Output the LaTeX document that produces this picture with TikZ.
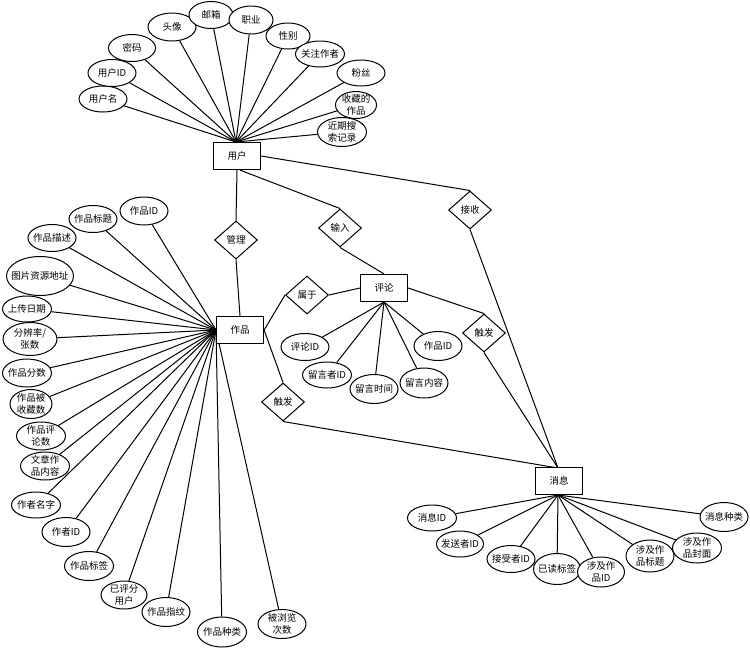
\documentclass[tikz,border=0pt]{standalone}
\usepackage{fontspec}
\setmainfont{Noto Sans CJK SC}
\usetikzlibrary{shapes.geometric,backgrounds}

\begin{document}
\begin{tikzpicture}[x=1pt,y=-1pt,
  every node/.style={font=\fontsize{9.5}{12}\selectfont},
  attr/.style={draw=black,ellipse,fill=white,line width=1pt,align=center,inner xsep=-3pt,inner ysep=-2pt,minimum width=48pt,minimum height=27pt},
  ent/.style={draw=black,fill=white,line width=1.2pt,inner sep=0pt,minimum width=47pt,minimum height=27pt},
  rel/.style={draw=black,diamond,fill=white,line width=1pt,inner sep=0pt,minimum width=43pt,minimum height=38pt},
  ln/.style={black,line width=1pt}]
\useasboundingbox (0,0) rectangle (750,649);
% entities
\node[ent] (user) at (237,156) {用户};
\node[ent] (work) at (240,330) {作品};
\node[ent] (cmt) at (384,288) {评论};
\node[ent] (msg) at (559,481) {消息};
% relations
\node[rel] (gl) at (236,240) {管理};
\node[rel] (in) at (340,228) {输入};
\node[rel] (jr) at (470,210) {接收};
\node[rel] (sy) at (307,295) {属于};
\node[rel] (cf1) at (283,402) {触发};
\node[rel] (cf2) at (484,333) {触发};
% user attributes
\node[attr,minimum height=26pt] (ua1) at (103,99) {用户名};
\node[attr] (ua2) at (112,73) {用户ID};
\node[attr,minimum width=47pt] (ua3) at (132,48) {密码};
\node[attr,minimum height=28pt] (ua4) at (172,27) {头像};
\node[attr,minimum width=44pt] (ua5) at (211,15) {邮箱};
\node[attr,minimum width=44pt,minimum height=28pt] (ua6) at (251,20) {职业};
\node[attr,minimum width=44pt,minimum height=26pt] (ua7) at (288,36) {性别};
\node[attr,minimum width=49pt,minimum height=26pt] (ua8) at (320,54) {关注作者};
\node[attr,minimum height=26pt] (ua9) at (361,73) {粉丝};
\node[attr,minimum width=41pt,minimum height=27pt] (ua10) at (356,105) {收藏的\\作品};
\node[attr,minimum width=49pt,minimum height=29pt] (ua11) at (342,132) {近期搜\\索记录};
% work attributes
\node[attr,minimum height=28pt] (wa1) at (144,211) {作品ID};
\node[attr] (wa2) at (93,219) {作品标题};
\node[attr] (wa3) at (52,238) {作品描述};
\node[attr,inner xsep=-6pt,minimum width=67pt,minimum height=39pt] (wa4) at (40,276) {图片资源地址};
\node[attr,minimum width=49pt,minimum height=26pt] (wa5) at (27,309) {上传日期};
\node[attr,minimum width=54pt,minimum height=33pt] (wa6) at (30,339) {分辨率/\\张数};
\node[attr,minimum width=49pt,minimum height=28pt] (wa7) at (27,373) {作品分数};
\node[attr,minimum width=42pt,minimum height=29pt] (wa8) at (31,404) {作品被\\收藏数};
\node[attr,minimum width=49pt,minimum height=28pt] (wa9) at (41,436) {作品评\\论数};
\node[attr,minimum width=49pt,minimum height=28pt] (wa10) at (45,466) {文章作\\品内容};
\node[attr,minimum width=49pt,minimum height=26pt] (wa11) at (36,505) {作者名字};
\node[attr,minimum height=29pt] (wa12) at (66,532) {作者ID};
\node[attr,minimum width=49pt,minimum height=29pt] (wa13) at (89,566) {作品标签};
\node[attr,minimum width=46pt,minimum height=28pt] (wa14) at (124,595) {已评分\\用户};
\node[attr,minimum height=29pt] (wa15) at (166,612) {作品指纹};
\node[attr,minimum width=49pt,minimum height=30pt] (wa16) at (222,632) {作品种类};
\node[attr,minimum height=29pt] (wa17) at (282,624) {被浏览\\次数};
% comment attributes
\node[attr] (ca1) at (305,347) {评论ID};
\node[attr,minimum width=49pt,minimum height=26pt] (ca2) at (327,375) {留言者ID};
\node[attr,minimum height=29pt] (ca3) at (374,389) {留言时间};
\node[attr,minimum height=30pt] (ca4) at (424,383) {留言内容};
\node[attr,minimum height=29pt] (ca5) at (438,346) {作品ID};
% message attributes
\node[attr,minimum width=49pt,minimum height=26pt] (ma1) at (432,518) {消息ID};
\node[attr,minimum width=47pt,minimum height=26pt] (ma2) at (460,544) {发送者ID};
\node[attr] (ma3) at (511,559) {接受者ID};
\node[attr,minimum width=47pt,minimum height=31pt] (ma4) at (557,569) {已读标签};
\node[attr,minimum width=47pt,minimum height=30pt] (ma5) at (601,572) {涉及作\\品ID};
\node[attr,minimum height=32pt] (ma6) at (650,556) {涉及作\\品标题};
\node[attr,minimum width=49pt,minimum height=30pt] (ma7) at (697,548) {涉及作\\品封面};
\node[attr,minimum height=29pt] (ma8) at (724,517) {消息种类};
% meeting points of the attribute lines
\coordinate (uc) at (236,142);
\coordinate (wc) at (216,330);
\coordinate (cc) at (384,302);
\coordinate (mc) at (558,495);
\coordinate (mt) at (558,468);
\begin{scope}[on background layer]
\foreach \i in {1,...,11} \draw[ln] (uc) -- (ua\i);
\foreach \i in {1,...,17} \draw[ln] (wc) -- (wa\i);
\foreach \i in {1,...,5} \draw[ln] (cc) -- (ca\i);
\foreach \i in {1,...,8} \draw[ln] (mc) -- (ma\i);
\draw[ln] (user.south) -- (gl.north) (gl.south) -- (work.north);
\draw[ln] ([xshift=3pt]user.south) -- (in.north) (in.south) -- (cmt.north);
\draw[ln] (user.east) -- (jr.north) (jr.south) -- (mt);
\draw[ln] (work.east) -- (sy.west) (sy.east) -- (cmt.west);
\draw[ln] (work.east) -- (cf1.north) (cf1.south) -- (mt);
\draw[ln] (cmt.east) -- (cf2.north) (cf2.south) -- (mt);
\end{scope}
\end{tikzpicture}
\end{document}
